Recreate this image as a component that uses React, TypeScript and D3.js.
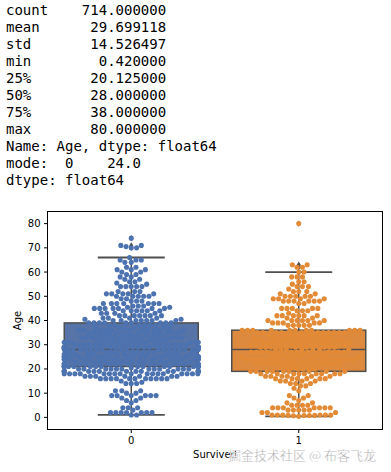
import React from "react";
import * as d3 from "d3";

// describe() output printed above the chart
const statsLines = [
  "count    714.000000",
  "mean      29.699118",
  "std       14.526497",
  "min        0.420000",
  "25%       20.125000",
  "50%       28.000000",
  "75%       38.000000",
  "max       80.000000",
  "Name: Age, dtype: float64",
  "mode:  0    24.0",
  "dtype: float64",
];

// [age, count] for Survived = 0
const diedAgeCounts: [number, number][] = [
  [1, 2], [2, 7], [3, 1], [4, 3], [6, 1], [7, 2], [8, 2], [9, 6], [10, 2], [11, 3],
  [14, 3], [14.5, 1], [15, 1], [16, 11], [17, 7], [18, 17], [19, 16], [20, 12], [20.5, 1],
  [21, 19], [22, 16], [23, 10], [23.5, 1], [24, 15], [24.5, 1], [25, 17], [26, 12], [27, 7],
  [28, 19], [28.5, 2], [29, 12], [30, 15], [30.5, 2], [31, 9], [32, 9], [32.5, 1], [33, 9],
  [34, 9], [34.5, 1], [35, 7], [36, 11], [36.5, 1], [37, 5], [38, 6], [39, 9], [40, 7],
  [40.5, 2], [41, 4], [42, 7], [43, 4], [44, 6], [45, 7], [45.5, 2], [46, 3], [47, 7],
  [48, 3], [49, 2], [50, 5], [51, 5], [52, 3], [54, 5], [55, 1], [55.5, 1], [56, 2],
  [57, 2], [58, 2], [59, 2], [60, 2], [61, 3], [62, 2], [64, 2], [65, 3], [66, 1],
  [70, 2], [70.5, 1], [71, 2], [74, 1],
];

// [age, count] for Survived = 1
const survivedAgeCounts: [number, number][] = [
  [0.42, 1], [0.67, 1], [0.75, 2], [0.83, 2], [0.92, 1], [1, 5], [2, 3], [3, 5], [4, 7],
  [5, 4], [6, 2], [7, 1], [8, 2], [9, 2], [11, 1], [12, 1], [13, 2], [14, 3], [15, 4],
  [16, 6], [17, 6], [18, 9], [19, 9], [20, 3], [21, 5], [22, 11], [23, 5], [24, 15],
  [25, 6], [26, 6], [27, 11], [28, 7], [29, 8], [30, 10], [31, 8], [32, 9], [32.5, 1],
  [33, 6], [34, 6], [35, 11], [36, 11], [38, 5], [39, 5], [40, 6], [41, 2],
  [42, 6], [43, 1], [44, 3], [45, 5], [47, 2], [48, 6], [49, 4], [50, 5], [51, 2],
  [52, 3], [53, 1], [54, 3], [55, 1], [56, 2], [58, 3], [60, 2], [62, 2], [63, 2], [80, 1],
];

const categories = ["0", "1"];
const yTicks = [0, 10, 20, 30, 40, 50, 60, 70, 80];
const pointColors = ["#4c72b0", "#e28a35"];
const boxColors = ["#5774a8", "#dd8a3e"];
const lineGray = "#4f4f4f";

const W = 391;
const H = 472;
const left = 47.5;
const right = 382.5;
const top = 211.5;
const bottom = 429.5;
const dotR = 2.55;

const x = d3.scaleBand().domain(categories).range([left, right]).paddingInner(0).paddingOuter(0);
const y = d3.scaleLinear().domain([-5, 85]).range([bottom, top]);

const expand = (pairs: [number, number][]) => pairs.flatMap(([a, c]) => Array(c).fill(a) as number[]);

// boxplot numbers (pandas style linear quantiles, 1.5 IQR whiskers)
function boxStats(vals: number[]) {
  const s = [...vals].sort((a, b) => a - b);
  const q1 = d3.quantileSorted(s, 0.25)!;
  const med = d3.quantileSorted(s, 0.5)!;
  const q3 = d3.quantileSorted(s, 0.75)!;
  const iqr = q3 - q1;
  const lo = d3.min(s.filter((v) => v >= q1 - 1.5 * iqr))!;
  const hi = d3.max(s.filter((v) => v <= q3 + 1.5 * iqr))!;
  const fliers = Array.from(new Set(s.filter((v) => v < lo || v > hi)));
  return { q1, med, q3, lo, hi, fliers };
}

// seaborn-like beeswarm, done in pixel space
function swarm(vals: number[], cx: number, half: number) {
  const d = dotR * 2;
  const pts = vals.map((v) => ({ v, y: y(v), x: cx })).sort((a, b) => a.v - b.v);
  const placed: { v: number; x: number; y: number }[] = [];
  for (const p of pts) {
    const nb = placed.filter((q) => Math.abs(q.y - p.y) < d);
    const cands = [cx];
    for (const q of nb) {
      const dy = p.y - q.y;
      const dx = Math.sqrt(d * d - dy * dy) * 1.05;
      cands.push(q.x - dx, q.x + dx);
    }
    cands.sort((a, b) => Math.abs(a - cx) - Math.abs(b - cx));
    let nx = cands[cands.length - 1];
    for (const c of cands) {
      if (nb.every((q) => (c - q.x) ** 2 + (p.y - q.y) ** 2 >= d * d - 1e-6)) {
        nx = c;
        break;
      }
    }
    placed.push({ ...p, x: nx });
  }
  // gutters
  return placed.map((p) => ({ ...p, x: Math.max(cx - half, Math.min(cx + half, p.x)) }));
}

const groups = [diedAgeCounts, survivedAgeCounts].map((pairs, i) => {
  const vals = expand(pairs);
  const cx = x(categories[i])! + x.bandwidth() / 2;
  const bw = x.bandwidth() * 0.8;
  return { cx, bw, stats: boxStats(vals), dots: swarm(vals, cx, bw / 2) };
});

export default function App() {
  return (
    <svg
      width={W}
      height={H}
      style={{ position: "absolute", left: 0, top: 0, background: "#fff" }}
      fontFamily="DejaVu Sans"
    >
      <rect width={W} height={H} fill="#fff" />
      <g fontFamily="DejaVu Sans Mono" fontSize={14} fill="#000">
        {statsLines.map((s, i) => (
          <text key={i} x={6} y={15 + i * 17} xmlSpace="preserve" style={{ whiteSpace: "pre" }}>
            {s}
          </text>
        ))}
      </g>

      {groups.map((g, i) => {
        const s = g.stats;
        return (
          <g key={"box" + i}>
            <rect
              x={g.cx - g.bw / 2}
              y={y(s.q3)}
              width={g.bw}
              height={y(s.q1) - y(s.q3)}
              fill={boxColors[i]}
              stroke={lineGray}
              strokeWidth={1.5}
            />
            <line x1={g.cx} x2={g.cx} y1={y(s.q3)} y2={y(s.hi)} stroke={lineGray} strokeWidth={1.5} />
            <line x1={g.cx} x2={g.cx} y1={y(s.q1)} y2={y(s.lo)} stroke={lineGray} strokeWidth={1.5} />
            <line x1={g.cx - g.bw / 4} x2={g.cx + g.bw / 4} y1={y(s.hi)} y2={y(s.hi)} stroke={lineGray} strokeWidth={1.8} />
            <line x1={g.cx - g.bw / 4} x2={g.cx + g.bw / 4} y1={y(s.lo)} y2={y(s.lo)} stroke={lineGray} strokeWidth={1.8} />
            <line x1={g.cx - g.bw / 2} x2={g.cx + g.bw / 2} y1={y(s.med)} y2={y(s.med)} stroke={lineGray} strokeWidth={1.5} />
            {s.fliers.map((f, j) => (
              <path
                key={j}
                d={`M${g.cx},${y(f) - 3.2}L${g.cx + 2},${y(f)}L${g.cx},${y(f) + 3.2}L${g.cx - 2},${y(f)}Z`}
                fill={lineGray}
              />
            ))}
          </g>
        );
      })}

      {groups.map((g, i) => (
        <g key={"dots" + i} fill={pointColors[i]}>
          {g.dots.map((p, j) => (
            <circle key={j} cx={p.x} cy={p.y} r={dotR} />
          ))}
        </g>
      ))}

      {/* axes frame */}
      <rect x={left} y={top} width={right - left} height={bottom - top} fill="none" stroke="#000" strokeWidth={1} />

      {yTicks.map((t) => (
        <g key={t} transform={`translate(0,${y(t)})`}>
          <line x1={left - 3.5} x2={left} stroke="#000" strokeWidth={1} />
          <text x={left - 7} dy="0.35em" textAnchor="end" fontSize={10} fill="#000">
            {t}
          </text>
        </g>
      ))}
      {categories.map((c, i) => (
        <g key={c} transform={`translate(${groups[i].cx},0)`}>
          <line y1={bottom} y2={bottom + 3.5} stroke="#000" strokeWidth={1} />
          <text y={bottom + 14.5} textAnchor="middle" fontSize={10} fill="#000">
            {c}
          </text>
        </g>
      ))}

      <text
        transform={`translate(20.5,${(top + bottom) / 2}) rotate(-90)`}
        textAnchor="middle"
        fontSize={10}
        fill="#000"
      >
        Age
      </text>
      <text x={(left + right) / 2} y={458} textAnchor="middle" fontSize={10} fill="#000">
        Survived
      </text>
      <text
        x={228}
        y={459.5}
        fontFamily="Noto Sans CJK SC"
        fontSize={13}
        fill="#9d9d9d"
        stroke="#fff"
        strokeWidth={0.4}
      >
        掘金技术社区 @ 布客飞龙
      </text>
    </svg>
  );
}
